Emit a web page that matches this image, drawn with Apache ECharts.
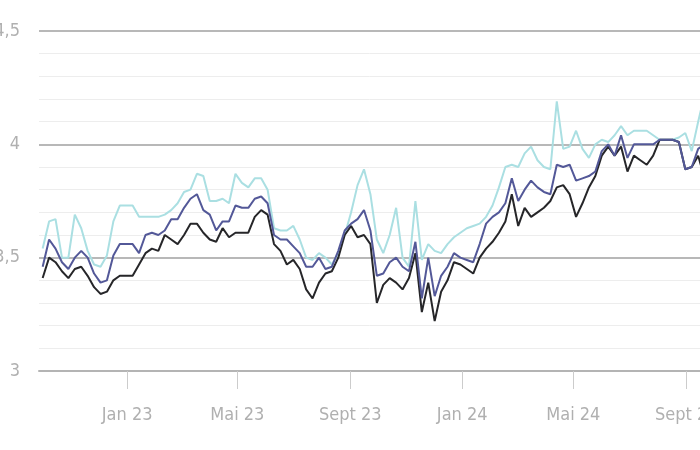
<!DOCTYPE html>
<html>
<head>
<meta charset="utf-8">
<script src="https://cdn.jsdelivr.net/npm/echarts@6/dist/echarts.min.js"></script>
<style>
html,body{margin:0;padding:0;background:#fff;}
#chart{width:700px;height:450px;}
</style>
</head>
<body>
<div id="chart"></div>
<script>
// Weekly observations, first week and step
const startDate = '2022-10-01';
const stepDays = 7;

// Light cyan series
const seriesCyan = [3.54,3.66,3.67,3.50,3.50,3.69,3.63,3.53,3.47,3.46,3.51,3.66,3.73,3.73,3.73,3.68,3.68,3.68,3.68,3.69,
3.71,3.74,3.79,3.80,3.87,3.86,3.75,3.75,3.76,3.74,3.87,3.83,3.81,3.85,3.85,3.80,3.63,3.62,3.62,3.64,
3.58,3.50,3.49,3.52,3.50,3.47,3.52,3.60,3.70,3.82,3.89,3.78,3.58,3.52,3.60,3.72,3.50,3.46,3.75,3.49,
3.56,3.53,3.52,3.56,3.59,3.61,3.63,3.64,3.65,3.68,3.73,3.81,3.90,3.91,3.90,3.96,3.99,3.93,3.90,3.89,
4.19,3.98,3.99,4.06,3.98,3.94,4.00,4.02,4.01,4.04,4.08,4.04,4.06,4.06,4.06,4.04,4.02,4.02,4.02,4.03,
4.05,3.97,4.10,4.22];

// Dark blue series
const seriesNavy = [3.46,3.58,3.54,3.48,3.45,3.50,3.53,3.50,3.43,3.39,3.40,3.51,3.56,3.56,3.56,3.52,3.60,3.61,3.60,3.62,
3.67,3.67,3.72,3.76,3.78,3.71,3.69,3.62,3.66,3.66,3.73,3.72,3.72,3.76,3.77,3.74,3.60,3.58,3.58,3.55,
3.52,3.46,3.46,3.50,3.45,3.46,3.53,3.62,3.65,3.67,3.71,3.62,3.42,3.43,3.48,3.50,3.46,3.44,3.57,3.32,
3.50,3.33,3.42,3.46,3.52,3.50,3.49,3.48,3.56,3.65,3.68,3.70,3.74,3.85,3.75,3.80,3.84,3.81,3.79,3.78,
3.91,3.90,3.91,3.84,3.85,3.86,3.88,3.97,4.00,3.95,4.04,3.94,4.00,4.00,4.00,4.00,4.02,4.02,4.02,4.01,
3.89,3.90,3.98,4.00];

// Black series
const seriesBlack = [3.41,3.50,3.48,3.44,3.41,3.45,3.46,3.42,3.37,3.34,3.35,3.40,3.42,3.42,3.42,3.47,3.52,3.54,3.53,3.60,
3.58,3.56,3.60,3.65,3.65,3.61,3.58,3.57,3.63,3.59,3.61,3.61,3.61,3.68,3.71,3.69,3.56,3.53,3.47,3.49,
3.45,3.36,3.32,3.39,3.43,3.44,3.50,3.60,3.64,3.59,3.60,3.56,3.30,3.38,3.41,3.39,3.36,3.41,3.52,3.26,
3.39,3.22,3.35,3.40,3.48,3.47,3.45,3.43,3.50,3.54,3.57,3.61,3.66,3.78,3.64,3.72,3.68,3.70,3.72,3.75,
3.81,3.82,3.78,3.68,3.74,3.81,3.86,3.95,3.99,3.95,3.99,3.88,3.95,3.93,3.91,3.95,4.02,4.02,4.02,4.01,
3.89,3.90,3.95,3.85];

// X tick labels and their dates
const tickDates = ['2023-01-01','2023-05-01','2023-09-01','2024-01-01','2024-05-01','2024-09-01'];
const tickLabels = ['Jan 23','Mai 23','Sept 23','Jan 24','Mai 24','Sept 24'];

// Y axis ticks
const yTicks = [3, 3.5, 4, 4.5];

const DAY = 86400000;
const t0 = Date.parse(startDate + 'T00:00:00Z');
const dates = seriesCyan.map((_, i) => t0 + i * stepDays * DAY);
const tickTimes = tickDates.map(d => Date.parse(d + 'T00:00:00Z'));
const pair = arr => arr.map((v, i) => [dates[i], v]);

const font = "'Liberation Sans Narrow', 'DejaVu Sans Condensed', 'Roboto', sans-serif";

const chart = echarts.init(document.getElementById('chart'), null, {renderer: 'canvas'});
chart.setOption({
  animation: false,
  backgroundColor: '#fff',
  grid: {left: 39, right: 0, top: 31, bottom: 79, containLabel: false, outerBoundsMode: 'none'},
  xAxis: {
    type: 'value',
    min: Date.parse('2022-09-27T00:00:00Z'),
    max: Date.parse('2024-09-16T00:00:00Z'),
    axisLine: {show: true, lineStyle: {color: '#b4b4b4', width: 2}},
    axisTick: {show: true, customValues: tickTimes, length: 18, lineStyle: {color: '#cccccc', width: 1}},
    axisLabel: {
      customValues: tickTimes,
      margin: 44,
      verticalAlign: 'middle',
      color: '#b0b0b0',
      fontSize: 18,
      fontFamily: font,
      showMinLabel: true,
      showMaxLabel: true,
      hideOverlap: false,
      formatter: function (val) {
        const idx = tickTimes.indexOf(val);
        return idx >= 0 ? tickLabels[idx] : '';
      }
    },
    splitLine: {show: false}
  },
  yAxis: {
    type: 'value',
    min: yTicks[0],
    max: yTicks[yTicks.length - 1],
    interval: 0.5,
    axisLine: {show: false},
    axisTick: {show: false},
    axisLabel: {
      margin: 19,
      color: '#b0b0b0',
      fontSize: 18,
      fontFamily: font,
      formatter: v => String(v).replace('.', ',')
    },
    splitLine: {show: true, lineStyle: {color: '#b8b8b8', width: 2}},
    minorTick: {show: false, splitNumber: 5},
    minorSplitLine: {show: true, lineStyle: {color: '#ededed', width: 1}}
  },
  series: [
    {type: 'line', name: 'cyan', data: pair(seriesCyan), showSymbol: false, symbol: 'none',
     lineStyle: {color: '#aadfe2', width: 2}, itemStyle: {color: '#aadfe2'}, z: 2},
    {type: 'line', name: 'black', data: pair(seriesBlack), showSymbol: false, symbol: 'none',
     lineStyle: {color: '#262629', width: 2}, itemStyle: {color: '#262629'}, z: 3},
    {type: 'line', name: 'navy', data: pair(seriesNavy), showSymbol: false, symbol: 'none',
     lineStyle: {color: '#535898', width: 2}, itemStyle: {color: '#535898'}, z: 4}
  ]
});
</script>
</body>
</html>
